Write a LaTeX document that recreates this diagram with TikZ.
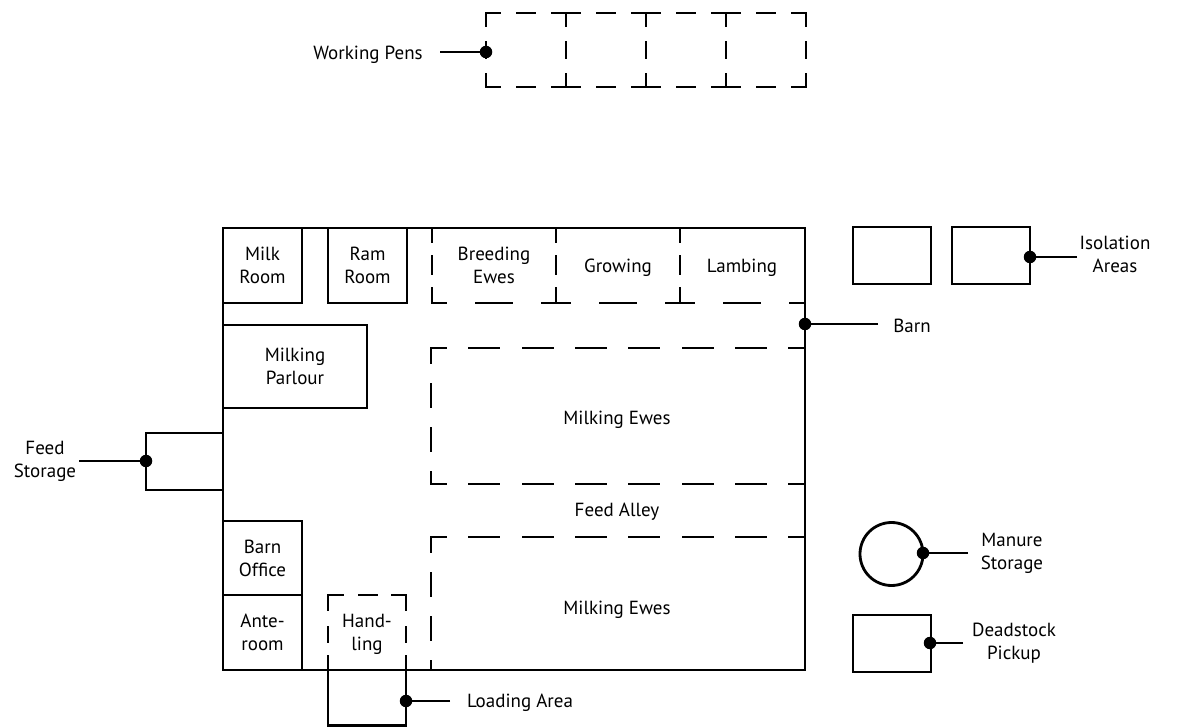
\documentclass[tikz,border=0pt]{standalone}
\usepackage{fontspec}
\setmainfont{PT Sans}
\usepackage{tikz}
\usetikzlibrary{calc,positioning}
\tikzset{
  room/.style={draw,line width=2.8pt,inner sep=0pt,outer sep=0pt,anchor=north west,align=center},
  lbl/.style={inner sep=0pt,align=center},
  dot/.style={circle,fill=black,inner sep=0pt,outer sep=0pt,minimum size=12.5pt},
  leader/.style={line width=2.8pt},
  wall/.style={line width=2.8pt,line cap=rect},
  alleyh/.style={wall,dash pattern=on 29pt off 24.33pt,dash phase=14.5pt},
  alleyv/.style={wall,dash pattern=on 22pt off 22pt,dash phase=7.5pt},
  penh/.style={wall,dash pattern=on 28pt off 30pt on 36pt off 30pt,dash phase=14pt},
  penv/.style={wall,dash pattern=on 27pt off 15pt on 17pt off 15pt,dash phase=13.5pt},
  yardh/.style={wall,dash pattern=on 27pt off 18pt on 17pt off 18pt,dash phase=13.5pt},
  yardv/.style={wall,dash pattern=on 25pt off 17pt on 15pt off 17pt,dash phase=12.5pt},
  handh/.style={wall,dash pattern=on 29pt off 17pt on 17pt off 16pt,dash phase=14.5pt},
  handv/.style={wall,dash pattern=on 29pt off 18pt on 14pt off 15pt,dash phase=14.5pt}
}
\begin{document}
\begin{tikzpicture}[x=1pt,y=-1pt,every node/.append style={font=\fontsize{19}{23}\selectfont}]
    \useasboundingbox (0,0) rectangle (1179,727);

    % barn and rooms along its walls
    \node[room,minimum width=582pt,minimum height=442pt] (barn) at (223,228) {};
    \node[room,minimum width=79pt,minimum height=75pt] (milkroom) at (223,228) {Milk\\Room};
    \node[room,minimum width=79pt,minimum height=75pt] (ramroom) at (328,228) {Ram\\Room};
    \node[room,minimum width=144pt,minimum height=83pt] (parlour) at (223,325) {Milking\\Parlour};
    \node[room,minimum width=77pt,minimum height=57pt] (feedstore) at (146,433) {};
    \node[room,minimum width=79pt,minimum height=74pt] (office) at (223,521) {Barn\\Office};
    \node[room,minimum width=79pt,minimum height=75pt] (anteroom) at (223,595) {Ante-\\room};
    \node[room,minimum width=78pt,minimum height=55.5pt] (loading) at (328,670) {};

    % buildings outside the barn
    \node[room,minimum width=78pt,minimum height=57pt] (isoA) at (853,227) {};
    \node[room,minimum width=78pt,minimum height=57pt] (isoB) at (952,227) {};
    \node[room,minimum width=78pt,minimum height=57pt] (deadstock) at (853,615) {};
    \node[draw,circle,line width=2.8pt,inner sep=0pt,outer sep=0pt,minimum size=63pt] (manure) at (891.5,554) {};

    % pens inside the barn
    \draw[penv] (432,228) -- (432,303);
    \draw[penv] (556,228) -- (556,303);
    \draw[penv] (680,228) -- (680,303);
    \draw[penh] (432,303) -- (805,303);
    \draw[alleyh] (431,348) -- (805,348);
    \draw[alleyv] (431,348) -- (431,484);
    \draw[alleyh] (431,484) -- (805,484);
    \draw[alleyh] (431,537) -- (805,537);
    \draw[alleyv] (431,537) -- (431,670);

    % handling pen
    \draw[handh] (328,595) -- (406,595);
    \draw[handv] (328,595) -- (328,670);
    \draw[handv] (406,595) -- (406,670);

    % working pens
    \draw[yardh] (486,13) -- (806,13);
    \draw[yardh] (486,87) -- (806,87);
    \draw[yardv] (486,13) -- (486,87);
    \draw[yardv] (566,13) -- (566,87);
    \draw[yardv] (646,13) -- (646,87);
    \draw[yardv] (726,13) -- (726,87);
    \draw[yardv] (806,13) -- (806,87);

    % names inside the pens
    \node[lbl] (breeding) at (494,265) {Breeding\\Ewes};
    \node[lbl] (growing) at (618,268) {Growing};
    \node[lbl] (lambing) at (742,268) {Lambing};
    \node[lbl] (ewesA) at (617,420) {Milking Ewes};
    \node[lbl] (feedalley) at (617,512) {Feed Alley};
    \node[lbl] (ewesB) at (617,610) {Milking Ewes};
    \node[lbl] (handling) at (367,634) {Hand-\\ling};

    % outside labels with their leaders
    \node[lbl] (pens) at (368,55) {Working Pens};
    \node[lbl] (isolation) at (1115,254) {Isolation\\Areas};
    \node[lbl] (barnlbl) at (912,326) {Barn};
    \node[lbl] (feedlbl) at (45,461) {Feed\\Storage};
    \node[lbl] (manurelbl) at (1012,553) {Manure\\Storage};
    \node[lbl] (deadlbl) at (1014,643) {Deadstock\\Pickup};
    \node[lbl] (loadlbl) at (520,703) {Loading Area};

    \node[dot] (dotpens) at (486,52) {};
    \node[dot] (dotiso) at (1030,257) {};
    \node[dot] (dotbarn) at (805,324) {};
    \node[dot] (dotfeed) at (146,461) {};
    \node[dot] (dotmanure) at (923,553) {};
    \node[dot] (dotdead) at (930,643) {};
    \node[dot] (dotload) at (406,701) {};

    \coordinate (endpens) at (440,52);
    \coordinate (endiso) at (1077,257);
    \coordinate (endbarn) at (878,324);
    \coordinate (endfeed) at (79,461);
    \coordinate (endmanure) at (968,553);
    \coordinate (enddead) at (963,643);
    \coordinate (endload) at (450,701);

    \draw[leader] (endpens) -- (dotpens);
    \draw[leader] (endiso) -- (dotiso);
    \draw[leader] (endbarn) -- (dotbarn);
    \draw[leader] (endfeed) -- (dotfeed);
    \draw[leader] (endmanure) -- (dotmanure);
    \draw[leader] (enddead) -- (dotdead);
    \draw[leader] (endload) -- (dotload);
  \end{tikzpicture}
\end{document}
